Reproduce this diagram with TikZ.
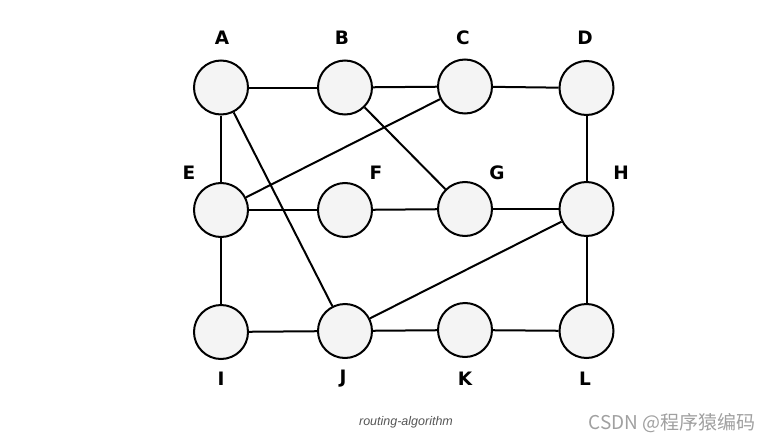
\documentclass[tikz,border=0pt]{standalone}
\usepackage{fontspec}
\setmainfont{DejaVu Sans}
\newfontfamily\capfont{Liberation Sans}
\newfontfamily\cjk{Noto Sans CJK SC}
\definecolor{nodefill}{HTML}{F4F4F4}
\definecolor{capgray}{HTML}{555555}
\definecolor{wmgray}{HTML}{A0A0A0}
\begin{document}
\begin{tikzpicture}[x=1pt,y=-1pt,
  vert/.style={circle,draw=black,line width=2pt,fill=nodefill,minimum size=54pt,inner sep=0pt},
  lbl/.style={font=\fontsize{18.5}{18.5}\selectfont\bfseries,text=black},
  edge/.style={line width=2pt,draw=black}]
\useasboundingbox (0,0) rectangle (772,442);
\node[vert] (A) at (221,87.5) {};
\node[vert] (B) at (345,87.5) {};
\node[vert] (C) at (465,86.5) {};
\node[vert] (D) at (586.5,88) {};
\node[vert] (E) at (221,210) {};
\node[vert] (F) at (345,210) {};
\node[vert] (G) at (465,209) {};
\node[vert] (H) at (586.5,209) {};
\node[vert] (I) at (221,332) {};
\node[vert] (J) at (345,331) {};
\node[vert] (K) at (465,330) {};
\node[vert] (L) at (586.5,331) {};
\node[lbl] (lA) at (222,38) {A};
\node[lbl] (lB) at (342,38) {B};
\node[lbl] (lC) at (463,38) {C};
\node[lbl] (lD) at (585,38) {D};
\node[lbl] (lE) at (189,173) {E};
\node[lbl] (lF) at (376,173) {F};
\node[lbl] (lG) at (497,173) {G};
\node[lbl] (lH) at (621,173) {H};
\node[lbl] (lI) at (221,379) {I};
\node[lbl] (lJ) at (343,379) {J};
\node[lbl] (lK) at (465,379) {K};
\node[lbl] (lL) at (585,379) {L};
\draw[edge] (A) -- (B);
\draw[edge] (B) -- (C);
\draw[edge] (C) -- (D);
\draw[edge] (A) -- (E);
\draw[edge] (A) -- (J);
\draw[edge] (B) -- (G);
\draw[edge] (C) -- (E);
\draw[edge] (D) -- (H);
\draw[edge] (E) -- (F);
\draw[edge] (F) -- (G);
\draw[edge] (G) -- (H);
\draw[edge] (E) -- (I);
\draw[edge] (H) -- (J);
\draw[edge] (H) -- (L);
\draw[edge] (I) -- (J);
\draw[edge] (J) -- (K);
\draw[edge] (K) -- (L);
\node[font=\capfont\itshape\fontsize{12.5}{12.5}\selectfont,text=capgray] (cap) at (406,422) {routing-algorithm};
\node[font=\cjk\fontsize{19}{19}\selectfont,text=wmgray] (wm) at (672,423) {CSDN @程序猿编码};
\end{tikzpicture}
\end{document}
